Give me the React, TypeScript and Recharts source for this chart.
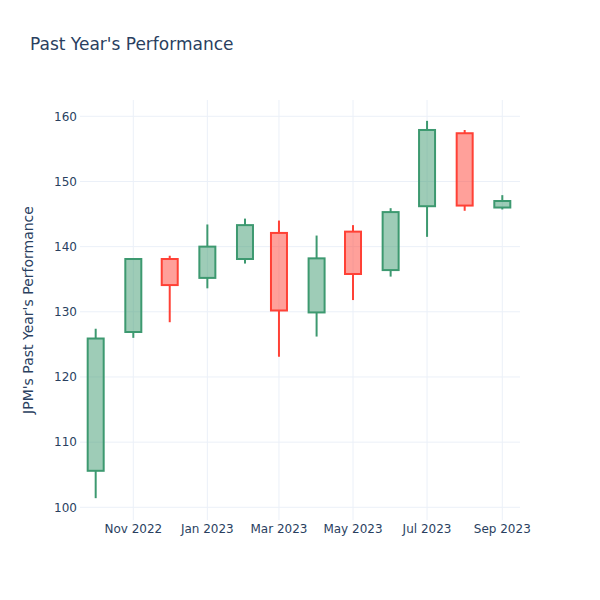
import React from 'react';
import { ComposedChart, Bar, XAxis, YAxis, CartesianGrid } from 'recharts';

const months = ['2022-10-01', '2022-11-01', '2022-12-01', '2023-01-01', '2023-02-01', '2023-03-01', '2023-04-01', '2023-05-01', '2023-06-01', '2023-07-01', '2023-08-01', '2023-09-01'];
const opens = [105.6, 126.9, 138.1, 135.2, 138.1, 142.1, 129.9, 142.3, 136.4, 146.2, 157.4, 146.0];
const highs = [127.4, 138.2, 138.6, 143.4, 144.3, 144.0, 141.7, 143.3, 145.9, 159.3, 157.9, 147.9];
const lows = [101.4, 126.0, 128.4, 133.6, 137.4, 123.1, 126.2, 131.8, 135.4, 141.5, 145.5, 145.7];
const closes = [125.9, 138.1, 134.1, 140.0, 143.3, 130.2, 138.2, 135.8, 145.3, 157.9, 146.3, 147.0];

const xTickDates = ['2022-11-01', '2023-01-01', '2023-03-01', '2023-05-01', '2023-07-01', '2023-09-01'];
const yTicks = [100, 110, 120, 130, 140, 150, 160];
const monthNames = ['Jan', 'Feb', 'Mar', 'Apr', 'May', 'Jun', 'Jul', 'Aug', 'Sep', 'Oct', 'Nov', 'Dec'];

const toTs = (d: string) => Date.parse(d + 'T00:00:00Z');

const data = months.map((m, i) => ({
  t: toTs(m),
  open: opens[i],
  high: highs[i],
  low: lows[i],
  close: closes[i],
  range: [lows[i], highs[i]],
}));

const xTicks = xTickDates.map(toTs);
const xDomain = [Date.UTC(2022, 8, 18, 2), Date.UTC(2023, 8, 15, 14)];
const yDomain = [98.05, 162.5];

const fmtDate = (v: number) => {
  const d = new Date(v);
  return `${monthNames[d.getUTCMonth()]} ${d.getUTCFullYear()}`;
};

const TEXT = '#2a3f5f';
const FONT = 'DejaVu Sans';

const Candle = (props: any) => {
  const { x, y, width, height, payload } = props;
  if (!payload) return null;
  const { open, close, high, low } = payload;
  const up = close >= open;
  const color = up ? '#3D9970' : '#FF4136';
  const fill = up ? 'rgba(61,153,112,0.5)' : 'rgba(255,65,54,0.5)';
  const top = Math.min(y, y + height);
  const h = Math.abs(height);
  const ratio = h / (high - low);
  const yOf = (v: number) => top + (high - v) * ratio;
  const cx = x + width / 2;
  const bTop = yOf(Math.max(open, close));
  const bBot = yOf(Math.min(open, close));
  return (
    <g>
      <line x1={cx} x2={cx} y1={top} y2={bTop} stroke={color} strokeWidth={2} />
      <line x1={cx} x2={cx} y1={bBot} y2={top + h} stroke={color} strokeWidth={2} />
      <rect x={x} y={bTop} width={width} height={Math.max(bBot - bTop, 1)} fill={fill} stroke={color} strokeWidth={2} />
    </g>
  );
};

export default function App() {
  return (
    <div style={{ position: 'absolute', left: 0, top: 0, width: 600, height: 600, background: '#fff' }}>
      <ComposedChart
        width={600}
        height={600}
        data={data}
        margin={{ top: 100, right: 80, bottom: 0, left: 0 }}
        style={{ fontFamily: FONT }}
      >
        <CartesianGrid stroke="#EBF0F8" strokeWidth={1} syncWithTicks />
        <XAxis
          dataKey="t"
          type="number"
          domain={xDomain}
          allowDataOverflow
          ticks={xTicks}
          tickFormatter={fmtDate}
          axisLine={false}
          tickLine={false}
          tickSize={0}
          tickMargin={4}
          height={80}
          interval={0}
          tick={{ fill: TEXT, fontSize: 12, fontFamily: FONT }}
        />
        <YAxis
          type="number"
          domain={yDomain}
          allowDataOverflow
          ticks={yTicks}
          axisLine={false}
          tickLine={false}
          tickSize={0}
          tickMargin={3}
          width={80}
          interval={0}
          tick={{ fill: TEXT, fontSize: 12, fontFamily: FONT }}
          label={{
            value: "JPM's Past Year's Performance",
            angle: -90,
            position: 'center',
            dx: -12,
            style: { fill: TEXT, fontSize: 14, fontFamily: FONT, textAnchor: 'middle' },
          }}
        />
        <Bar dataKey="range" barSize={16} isAnimationActive={false} shape={<Candle />} />
      </ComposedChart>
      <svg width={600} height={80} style={{ position: 'absolute', left: 0, top: 0, pointerEvents: 'none' }}>
        <text x={30} y={50} fill={TEXT} fontSize={17} fontFamily={FONT}>
          Past Year's Performance
        </text>
      </svg>
    </div>
  );
}
